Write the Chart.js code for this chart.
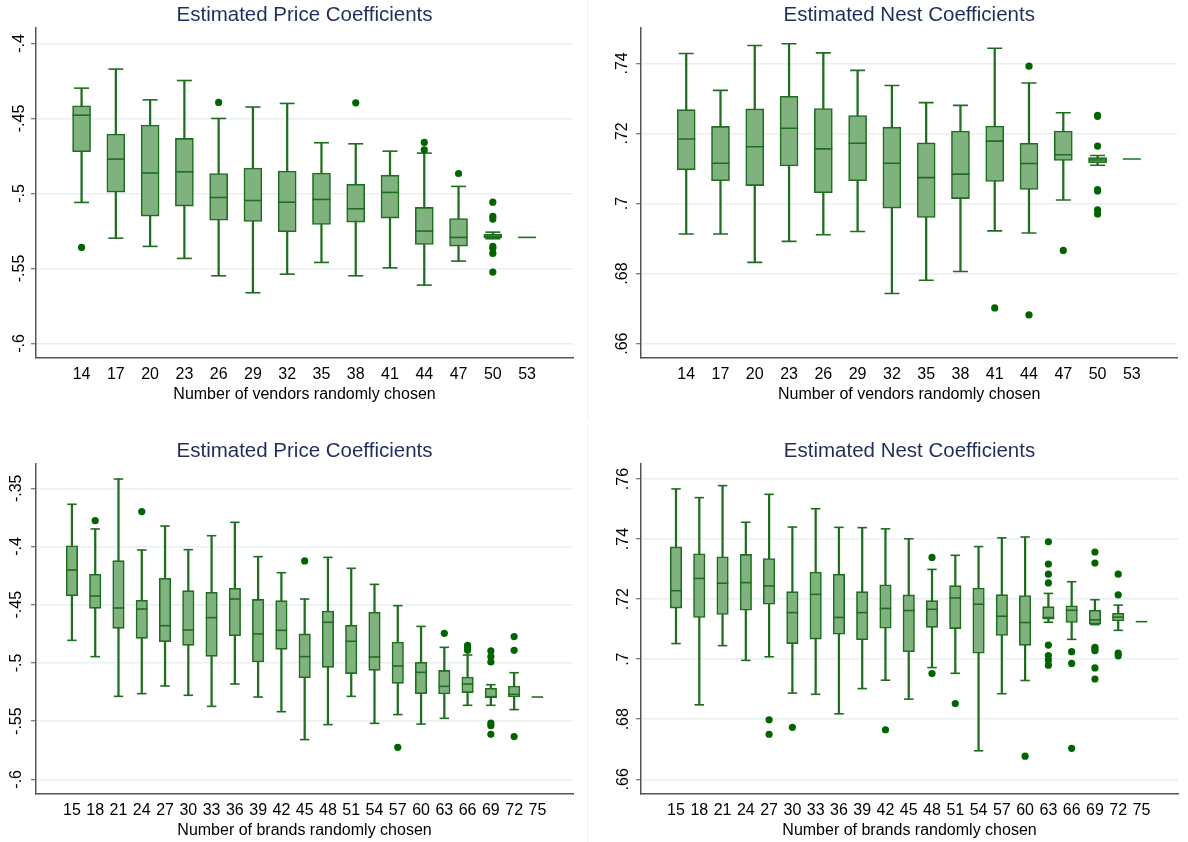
<!DOCTYPE html>
<html>
<head>
<meta charset="utf-8">
<script src="https://cdn.jsdelivr.net/npm/chart.js@4.4.1/dist/chart.umd.min.js"></script>
<style>
  html, body { margin: 0; padding: 0; background: #ffffff; }
  body { width: 1188px; height: 842px; position: relative; overflow: hidden; }
  .panel { position: absolute; }
  .panel canvas { display: block; }
  .divider { position: absolute; background: #f0f2f2; }
</style>
</head>
<body>
<div class="panel" style="left:0;top:0;"><canvas id="c1" width="587" height="421"></canvas></div>
<div class="panel" style="left:588px;top:0;"><canvas id="c2" width="600" height="421"></canvas></div>
<div class="panel" style="left:0;top:421px;"><canvas id="c3" width="587" height="421"></canvas></div>
<div class="panel" style="left:588px;top:421px;"><canvas id="c4" width="600" height="421"></canvas></div>
<div class="divider" style="left:587px;top:0;width:1px;height:419px;"></div>
<div class="divider" style="left:587px;top:424px;width:1px;height:418px;"></div>
<script>
// ---- Vendor samples ----
const vendorCats = ['14','17','20','23','26','29','32','35','38','41','44','47','50','53'];

// Price coefficients by vendors
const priceVendUpper  = [-0.4298,-0.4171,-0.4376,-0.4247,-0.4500,-0.4424,-0.4400,-0.4662,-0.4669,-0.4718,-0.4731,-0.4953,-0.5258,-0.5293];
const priceVendQ3     = [-0.4416,-0.4604,-0.4544,-0.4633,-0.4867,-0.4831,-0.4851,-0.4864,-0.4938,-0.4878,-0.5093,-0.5167,-0.5271,-0.5293];
const priceVendMedian = [-0.4478,-0.4771,-0.4864,-0.4856,-0.5027,-0.5047,-0.5058,-0.5040,-0.5102,-0.4993,-0.5251,-0.5293,-0.5284,-0.5293];
const priceVendQ1     = [-0.4722,-0.4991,-0.5151,-0.5084,-0.5178,-0.5187,-0.5256,-0.5207,-0.5191,-0.5164,-0.5340,-0.5351,-0.5296,-0.5293];
const priceVendLower  = [-0.5060,-0.5298,-0.5353,-0.5433,-0.5549,-0.5662,-0.5538,-0.5460,-0.5549,-0.5496,-0.5611,-0.5451,-0.5302,-0.5293];
const priceVendOutliers = [[-0.5360],[],[],[],[-0.4393],[],[],[],[-0.4396],[],[-0.4660,-0.4709],[-0.4867],
  [-0.5058,-0.5153,-0.5171,-0.5353,-0.5367,-0.5400,-0.5524],[]];

// Nest coefficients by vendors
const nestVendUpper  = [0.7428,0.7323,0.7451,0.7456,0.7430,0.7380,0.7337,0.7288,0.7280,0.7443,0.7344,0.7259,0.7137,0.7127];
const nestVendQ3     = [0.7268,0.7220,0.7270,0.7306,0.7271,0.7251,0.7218,0.7173,0.7207,0.7221,0.7172,0.7207,0.7131,0.7127];
const nestVendMedian = [0.7184,0.7115,0.7162,0.7215,0.7156,0.7172,0.7115,0.7074,0.7084,0.7178,0.7114,0.7139,0.7124,0.7127];
const nestVendQ1     = [0.7096,0.7065,0.7051,0.7107,0.7031,0.7065,0.6987,0.6960,0.7014,0.7063,0.7040,0.7123,0.7116,0.7127];
const nestVendLower  = [0.6913,0.6913,0.6832,0.6892,0.6911,0.6920,0.6743,0.6781,0.6806,0.6922,0.6916,0.7010,0.7109,0.7127];
const nestVendOutliers = [[],[],[],[],[],[],[],[],[],[0.6702],[0.7392,0.6682],[0.6866],
  [0.7252,0.7249,0.7164,0.7040,0.7036,0.6982,0.6970],[]];

// ---- Brand samples ----
const brandCats = ['15','18','21','24','27','30','33','36','39','42','45','48','51','54','57','60','63','66','69','72','75'];

// Price coefficients by brands
const priceBrandUpper  = [-0.3637,-0.3849,-0.3420,-0.4030,-0.3824,-0.4027,-0.3907,-0.3792,-0.4087,-0.4225,-0.4451,-0.4093,-0.4187,-0.4325,-0.4508,-0.4686,-0.4866,-0.4932,-0.5187,-0.5084,-0.5293];
const priceBrandQ3     = [-0.3993,-0.4239,-0.4121,-0.4462,-0.4273,-0.4379,-0.4393,-0.4359,-0.4454,-0.4465,-0.4751,-0.4554,-0.4677,-0.4565,-0.4820,-0.4995,-0.5064,-0.5121,-0.5218,-0.5198,-0.5293];
const priceBrandMedian = [-0.4202,-0.4425,-0.4528,-0.4537,-0.4680,-0.4717,-0.4611,-0.4451,-0.4751,-0.4720,-0.4946,-0.4651,-0.4814,-0.4949,-0.5026,-0.5081,-0.5201,-0.5181,-0.5290,-0.5270,-0.5293];
const priceBrandQ1     = [-0.4422,-0.4531,-0.4703,-0.4789,-0.4817,-0.4849,-0.4943,-0.4766,-0.4992,-0.4883,-0.5127,-0.5038,-0.5092,-0.5064,-0.5175,-0.5264,-0.5267,-0.5255,-0.5301,-0.5293,-0.5293];
const priceBrandLower  = [-0.4806,-0.4946,-0.5287,-0.5264,-0.5198,-0.5278,-0.5373,-0.5181,-0.5293,-0.5419,-0.5659,-0.5530,-0.5287,-0.5519,-0.5444,-0.5525,-0.5476,-0.5364,-0.5364,-0.5401,-0.5293];
const priceBrandOutliers = [[],[-0.3778],[],[-0.3700],[],[],[],[],[],[],[-0.4124],[],[],[],[-0.5725],[],[-0.4746],
  [-0.4849,-0.4869,-0.4892],[-0.4897,-0.4946,-0.4992,-0.5516,-0.5539,-0.5613],[-0.4774,-0.4892,-0.5633],[]];

// Nest coefficients by brands
const nestBrandUpper  = [0.7567,0.7538,0.7578,0.7456,0.7549,0.7440,0.7501,0.7439,0.7438,0.7434,0.7401,0.7299,0.7346,0.7375,0.7404,0.7407,0.7219,0.7258,0.7198,0.7180,0.7125];
const nestBrandQ3     = [0.7374,0.7351,0.7341,0.7349,0.7335,0.7225,0.7290,0.7283,0.7225,0.7248,0.7214,0.7195,0.7245,0.7237,0.7215,0.7212,0.7175,0.7178,0.7163,0.7153,0.7125];
const nestBrandMedian = [0.7228,0.7269,0.7253,0.7255,0.7244,0.7155,0.7216,0.7139,0.7155,0.7169,0.7162,0.7166,0.7204,0.7183,0.7143,0.7122,0.7139,0.7163,0.7131,0.7140,0.7125];
const nestBrandQ1     = [0.7170,0.7139,0.7149,0.7163,0.7183,0.7052,0.7067,0.7083,0.7065,0.7103,0.7025,0.7106,0.7102,0.7020,0.7079,0.7046,0.7133,0.7122,0.7117,0.7127,0.7125];
const nestBrandLower  = [0.7052,0.6848,0.7045,0.6996,0.7008,0.6887,0.6883,0.6818,0.6902,0.6930,0.6867,0.6972,0.6953,0.6695,0.6885,0.6929,0.7123,0.7066,0.7115,0.7096,0.7125];
const nestBrandOutliers = [[],[],[],[],[0.6798,0.6750],[0.6773],[],[],[],[0.6765],[],[0.7339,0.6952],[0.6852],[],[],[0.6677],
  [0.7391,0.7317,0.7283,0.7254,0.7047,0.7012,0.6997,0.6980],[0.7025,0.6986,0.6703],
  [0.7357,0.7320,0.7039,0.7035,0.7028,0.6971,0.6934],[0.7283,0.7214,0.7020,0.7011],[]];

// Y-axis tick values
const priceTicksVend  = [-0.6,-0.55,-0.5,-0.45,-0.4];
const nestTicksVend   = [0.66,0.68,0.70,0.72,0.74];
const priceTicksBrand = [-0.6,-0.55,-0.5,-0.45,-0.4,-0.35];
const nestTicksBrand  = [0.66,0.68,0.70,0.72,0.74,0.76];

// ---- Styling ----
const FONT = '"Liberation Sans", Arial, Helvetica, sans-serif';
const LINE = '#1f6e1f';
const FILL = '#80b280';
const DOT  = '#006400';
const TITLE_COLOR = '#1e2d5a';

// Stata-style number labels: -.45, .7
function stataFmt(v) {
  const s = String(+v.toFixed(3));
  return s.replace(/^(-?)0\./, '$1.');
}

// Title above the plot region and rotated y tick labels
const panelText = {
  id: 'panelText',
  afterDraw(chart, args, opts) {
    const { ctx, chartArea, scales } = chart;
    ctx.save();
    ctx.textAlign = 'center';
    ctx.textBaseline = 'middle';
    ctx.fillStyle = TITLE_COLOR;
    ctx.font = '20.5px ' + FONT;
    ctx.fillText(opts.title, (chartArea.left + chartArea.right) / 2, chartArea.top - opts.titleGap);
    ctx.fillStyle = '#000000';
    ctx.font = '16px ' + FONT;
    const ys = scales.y;
    ys.ticks.forEach(t => {
      const py = ys.getPixelForValue(t.value);
      ctx.save();
      ctx.translate(chartArea.left - opts.labelGap, py);
      ctx.rotate(-Math.PI / 2);
      ctx.fillText(stataFmt(t.value), 0, 0);
      ctx.restore();
    });
    ctx.restore();
  }
};

function boxPlot(canvasId, cfg) {
  const idx = cfg.cats.map((c, i) => i);
  const spread = i => cfg.upper[i] > cfg.lower[i];
  const boxes = idx.filter(i => cfg.q3[i] > cfg.q1[i]).map(i => ({ x: i, y: [cfg.q1[i], cfg.q3[i]] }));
  const whiskers = idx.filter(spread).map(i => ({ x: i, y: [cfg.lower[i], cfg.upper[i]] }));
  const caps = idx.filter(spread).flatMap(i => [{ x: i, y: cfg.upper[i] }, { x: i, y: cfg.lower[i] }]);
  const medians = idx.map(i => ({ x: i, y: cfg.median[i] }));
  const outliers = idx.flatMap(i => cfg.outliers[i].map(v => ({ x: i, y: v })));

  const g = cfg.geom;
  const yAxisWidth = g.area.l - g.canvas.left;
  const xAxisHeight = g.canvas.top + g.canvas.h - g.area.b;

  const pointSet = (label, data, order, radius, extra) => Object.assign({
    type: 'line', label, data, order, showLine: false,
    pointStyle: 'line', pointRadius: radius, pointHoverRadius: radius,
    pointBorderColor: LINE, pointBackgroundColor: LINE, pointBorderWidth: 1.6,
    borderColor: LINE, backgroundColor: LINE
  }, extra || {});

  return new Chart(document.getElementById(canvasId), {
    type: 'bar',
    data: {
      datasets: [
        { type: 'bar', label: 'whisker', data: whiskers, order: 5, grouped: false,
          barThickness: 1.6, backgroundColor: LINE, borderWidth: 0 },
        { type: 'bar', label: 'box', data: boxes, order: 4, grouped: false,
          barThickness: g.boxW, backgroundColor: FILL, borderColor: LINE,
          borderWidth: 1.6, borderSkipped: false },
        pointSet('caps', caps, 3, g.capW / 2),
        pointSet('median', medians, 2, g.boxW / 2),
        pointSet('outliers', outliers, 1, 3.6, { pointStyle: 'circle', pointBorderWidth: 0,
          pointBackgroundColor: DOT, pointBorderColor: DOT })
      ]
    },
    options: {
      responsive: false,
      animation: false,
      events: [],
      layout: { padding: {
        left: 0,
        top: g.area.t - g.canvas.top,
        right: g.canvas.left + g.canvas.w - g.area.r,
        bottom: 0
      } },
      plugins: {
        legend: { display: false },
        tooltip: { enabled: false },
        title: { display: false },
        panelText: { title: cfg.title, titleGap: 12.5, labelGap: g.labelGap }
      },
      scales: {
        x: {
          type: 'linear',
          min: g.xMin, max: g.xMax,
          bounds: 'data',
          afterBuildTicks: axis => { axis.ticks = idx.map(i => ({ value: i })); },
          afterFit: axis => { axis.height = xAxisHeight; },
          grid: { display: false, drawTicks: false },
          border: { display: true, color: '#555555', width: 1.5 },
          ticks: {
            autoSkip: false, maxRotation: 0, minRotation: 0, padding: 7,
            color: '#000000', font: { family: FONT, size: 16 },
            callback: (v, i) => cfg.cats[i]
          },
          title: {
            display: true, text: cfg.xTitle, color: '#000000',
            font: { family: FONT, size: 16 },
            padding: { top: 0, bottom: xAxisHeight - 36.5 - 9.6 }
          }
        },
        y: {
          type: 'linear',
          min: g.yMin, max: g.yMax,
          afterBuildTicks: axis => { axis.ticks = cfg.yTicks.map(v => ({ value: v })); },
          afterFit: axis => { axis.width = yAxisWidth; },
          grid: { color: '#e9f0f0', lineWidth: 1.5, drawTicks: true, tickLength: 5,
                  tickColor: '#555555', tickWidth: 1 },
          border: { display: true, color: '#555555', width: 1.5 },
          ticks: { display: false }
        }
      }
    },
    plugins: [panelText]
  });
}

const vendXTitle = 'Number of vendors randomly chosen';
const brandXTitle = 'Number of brands randomly chosen';

boxPlot('c1', {
  title: 'Estimated Price Coefficients', xTitle: vendXTitle, cats: vendorCats, yTicks: priceTicksVend,
  upper: priceVendUpper, q3: priceVendQ3, median: priceVendMedian, q1: priceVendQ1, lower: priceVendLower,
  outliers: priceVendOutliers,
  geom: { canvas: { left: 0, top: 0, w: 587, h: 421 }, area: { l: 36, r: 573, t: 28, b: 358 },
          yMin: -0.6097, yMax: -0.3897, xMin: -0.77, xMax: 13.78, boxW: 18, capW: 15, labelGap: 16 }
});

boxPlot('c2', {
  title: 'Estimated Nest Coefficients', xTitle: vendXTitle, cats: vendorCats, yTicks: nestTicksVend,
  upper: nestVendUpper, q3: nestVendQ3, median: nestVendMedian, q1: nestVendQ1, lower: nestVendLower,
  outliers: nestVendOutliers,
  geom: { canvas: { left: 588, top: 0, w: 600, h: 421 }, area: { l: 641, r: 1178, t: 28, b: 358 },
          yMin: 0.6559, yMax: 0.7501, xMin: -0.76, xMax: 13.77, boxW: 18, capW: 15, labelGap: 18 }
});

boxPlot('c3', {
  title: 'Estimated Price Coefficients', xTitle: brandXTitle, cats: brandCats, yTicks: priceTicksBrand,
  upper: priceBrandUpper, q3: priceBrandQ3, median: priceBrandMedian, q1: priceBrandQ1, lower: priceBrandLower,
  outliers: priceBrandOutliers,
  geom: { canvas: { left: 0, top: 421, w: 587, h: 421 }, area: { l: 36, r: 573, t: 464, b: 794 },
          yMin: -0.6126, yMax: -0.3291, xMin: -0.995, xMax: 20.98, boxW: 11.5, capW: 9.5, labelGap: 19 }
});

boxPlot('c4', {
  title: 'Estimated Nest Coefficients', xTitle: brandXTitle, cats: brandCats, yTicks: nestTicksBrand,
  upper: nestBrandUpper, q3: nestBrandQ3, median: nestBrandMedian, q1: nestBrandQ1, lower: nestBrandLower,
  outliers: nestBrandOutliers,
  geom: { canvas: { left: 588, top: 421, w: 600, h: 421 }, area: { l: 641, r: 1178, t: 464, b: 794 },
          yMin: 0.6551, yMax: 0.7650, xMin: -0.955, xMax: 21.02, boxW: 11.5, capW: 9.5, labelGap: 17.5 }
});
</script>
</body>
</html>
